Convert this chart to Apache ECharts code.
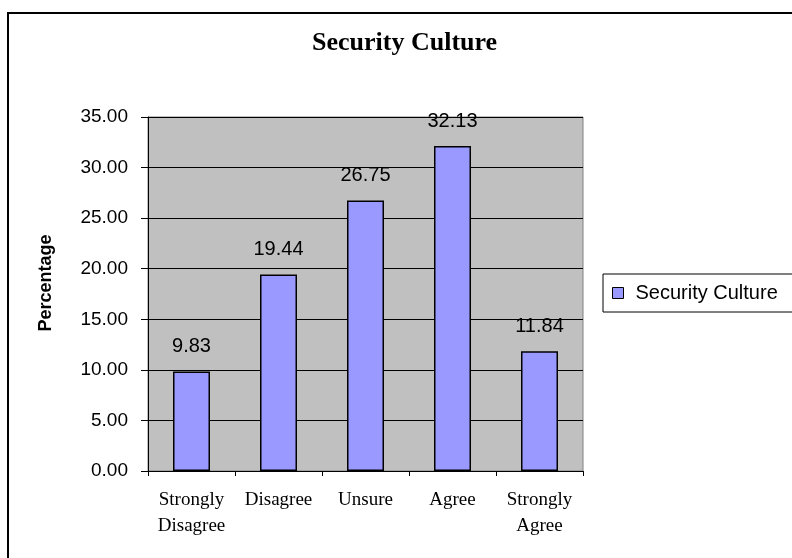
<!DOCTYPE html>
<html>
<head>
<meta charset="utf-8">
<script src="https://cdn.jsdelivr.net/npm/echarts@6/dist/echarts.min.js"></script>
<style>
  html, body { margin: 0; padding: 0; background: #fff; }
  #chart { width: 792px; height: 558px; }
</style>
</head>
<body>
<div id="chart"></div>
<script>
// Survey responses, percent of respondents
const categories = ['Strongly\nDisagree', 'Disagree', 'Unsure', 'Agree', 'Strongly\nAgree'];
const securityCulture = [9.83, 19.44, 26.75, 32.13, 11.84];
const yTicks = { min: 0, max: 35, interval: 5 };

const sans = '"Liberation Sans", Arial, sans-serif';
const serif = '"Liberation Serif", "Times New Roman", serif';

const chart = echarts.init(document.getElementById('chart'), null, { renderer: 'canvas' });

chart.setOption({
  backgroundColor: '#fff',
  animation: false,
  title: {
    text: 'Security Culture',
    left: 312,
    top: 30,
    padding: 0,
    textStyle: { fontFamily: serif, fontWeight: 'bold', fontSize: 26, color: '#000' },
  },
  legend: {
    data: ['Security Culture'],
    left: 603,
    top: 274,
    padding: [9, 40, 9, 9],
    orient: 'vertical',
    borderColor: '#000',
    borderWidth: 1,
    backgroundColor: '#fff',
    icon: 'rect',
    itemWidth: 11,
    itemHeight: 11,
    itemStyle: { borderColor: '#000', borderWidth: 1 },
    textStyle: { fontFamily: sans, fontSize: 20, color: '#000', padding: [0, 0, 0, 7] },
  },
  grid: {
    left: 148, right: 209, top: 117, bottom: 87,
    show: true,
    backgroundColor: '#C0C0C0',
    borderColor: '#808080',
    borderWidth: 1,
  },
  xAxis: {
    type: 'category',
    data: categories,
    axisLine: { lineStyle: { color: '#000', width: 1 } },
    axisTick: { show: true, length: 5, lineStyle: { color: '#000' } },
    axisLabel: {
      fontFamily: serif, fontSize: 19, lineHeight: 26, color: '#000', margin: 16, interval: 0,
    },
    splitLine: { show: false },
  },
  yAxis: {
    type: 'value',
    min: yTicks.min,
    max: yTicks.max,
    interval: yTicks.interval,
    axisLine: { show: true, lineStyle: { color: '#000', width: 1 } },
    axisTick: { show: true, length: 7, lineStyle: { color: '#000' } },
    axisLabel: {
      fontFamily: sans, fontSize: 19, color: '#000', margin: 20,
      formatter: (v) => v.toFixed(2),
    },
    splitLine: { show: true, lineStyle: { color: '#000', width: 1 } },
  },
  series: [{
    name: 'Security Culture',
    type: 'bar',
    data: securityCulture,
    barWidth: 37,
    itemStyle: { color: '#9999FF', borderColor: '#000', borderWidth: 1.5 },
    label: {
      show: true,
      position: 'top',
      distance: 15,
      fontFamily: sans,
      fontSize: 20,
      color: '#000',
      formatter: (p) => p.value.toFixed(2),
    },
  }],
  graphic: [
    {
      type: 'rect',
      shape: { x: 8, y: 13, width: 900, height: 900 },
      style: { fill: 'none', stroke: '#000', lineWidth: 2 },
      silent: true,
    },
    {
      type: 'text',
      x: 46,
      y: 283,
      rotation: Math.PI / 2,
      style: {
        text: 'Percentage',
        fontFamily: sans,
        fontWeight: 'bold',
        fontSize: 18,
        fill: '#000',
        align: 'center',
        verticalAlign: 'middle',
      },
    },
  ],
});
</script>
</body>
</html>
